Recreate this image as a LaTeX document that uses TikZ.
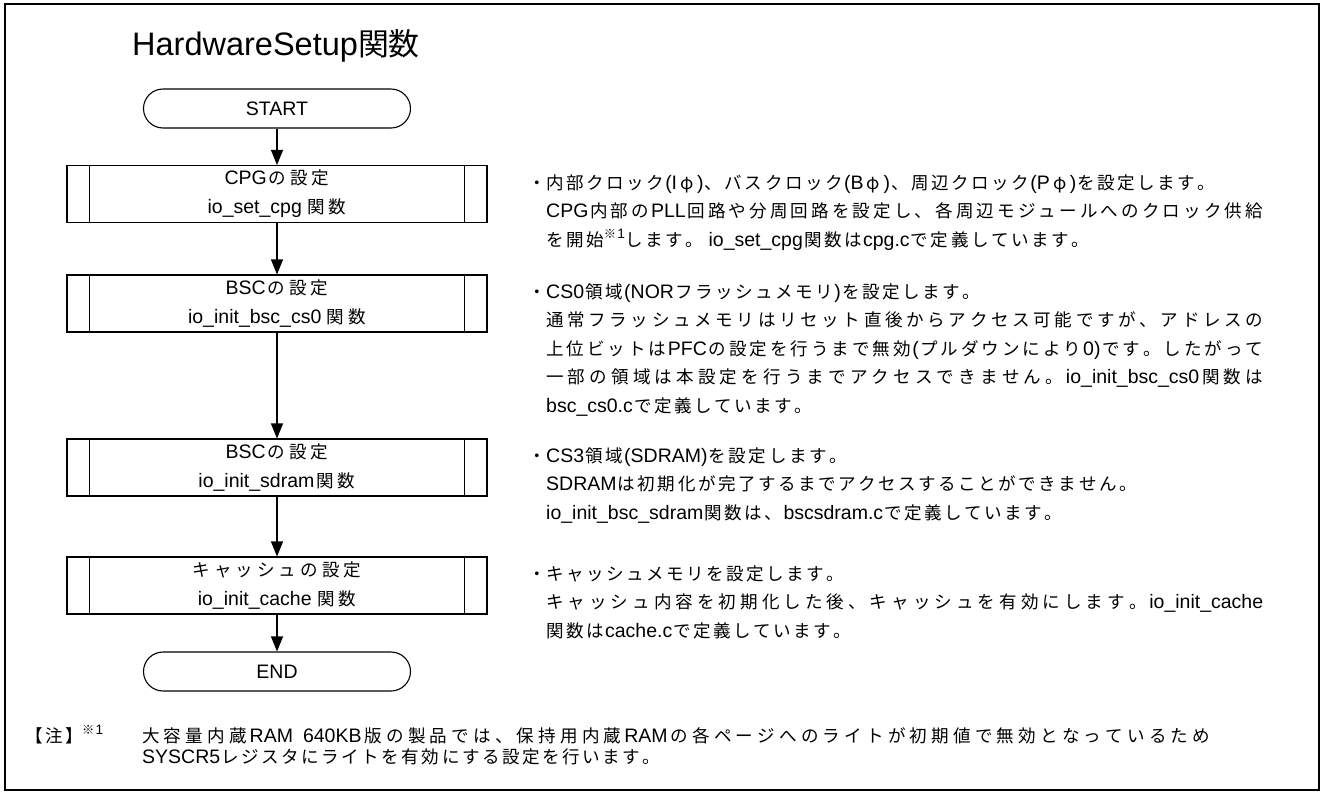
\documentclass[tikz,border=0pt]{standalone}
\usepackage{fontspec}
\setmainfont{Liberation Sans}
\newfontfamily\jfontB{Noto Sans CJK JP}[Scale=0.9]
\newfontfamily\jfontT{Noto Sans CJK JP}[Scale=0.95]
\usetikzlibrary{arrows.meta}
\let\jsw\jfontB
\def\jgapJJ{\hskip 2.5pt plus 1pt\relax}
\def\jgapJL{\hskip 1.25pt plus 1pt\relax}
\newcount\jcnt
\newXeTeXintercharclass\jclass
\def\setjrange#1#2{\jcnt=#1\relax
  \loop\XeTeXcharclass\jcnt=\jclass
  \ifnum\jcnt<#2\advance\jcnt by 1\repeat}
\setjrange{"3000}{"30FF}
\setjrange{"4E00}{"9FFF}
\setjrange{"FF00}{"FFEF}
\XeTeXcharclass"203B=\jclass
\XeTeXcharclass"03C6=\jclass
\XeTeXinterchartoks\jclass\jclass={\jgapJJ}
\XeTeXinterchartoks 0 \jclass={\jgapJL\jsw}
\XeTeXinterchartoks 4095 \jclass={\jsw}
\XeTeXinterchartoks\jclass 0={\jgapJL\rmfamily}
\XeTeXinterchartoks\jclass 4095={\rmfamily}
\XeTeXinterchartokenstate=1
\newcommand\fphi{\makebox[20pt]{φ}}
\newcommand\jl[1]{\hbox to 717pt{#1}}
\tikzset{
  proc/.style={draw, line width=1.1pt, minimum width=420pt, minimum height=57pt,
    inner sep=0pt, align=center,
    font={\def\jgapJJ{\hskip 4pt\relax}\def\jgapJL{\hskip 2pt\relax}\fontsize{19.5}{29}\selectfont}},
  term/.style={draw, line width=1.1pt, rounded corners=19.5pt, minimum width=267pt,
    minimum height=39pt, inner sep=0pt, font=\fontsize{19.5}{23}\selectfont},
  desc/.style={anchor=base west, align=left, inner sep=0pt,
    font=\fontsize{19.5}{28.5}\selectfont},
  note/.style={anchor=base west, align=left, inner sep=0pt,
    font=\fontsize{19.5}{21}\selectfont},
  flow/.style={line width=1.1pt, -{Triangle[length=15pt,width=12pt]}},
  side/.style={line width=1.1pt},
}
\begin{document}
\begin{tikzpicture}[x=1pt,y=-1pt]
\useasboundingbox (0,0) rectangle (1323,793);
\coordinate (fa) at (5,4);
\coordinate (fb) at (1319,790);
\draw[line width=1.3pt] (fa) rectangle (fb);
\draw[line width=2.2pt] (fa |- fb) -- (fa) -- (fb |- fa);
\node[anchor=base west, inner sep=0pt,
  font={\let\jsw\jfontT\let\jgapJJ\relax\let\jgapJL\relax\fontsize{32.5}{38}\selectfont}]
  (title) at (132,55) {HardwareSetup関数};
% flowchart
\node[term] (start) at (277,108.5) {START};
\node[proc] (p1) at (277,194) {CPGの設定\\io\_set\_cpg 関数};
\node[proc] (p2) at (277,303.5) {BSCの設定\\io\_init\_bsc\_cs0 関数};
\node[proc] (p3) at (277,467.5) {BSCの設定\\io\_init\_sdram関数};
\node[proc] (p4) at (277,585.5) {キャッシュの設定\\io\_init\_cache 関数};
\node[term] (end) at (277,671.5) {END};
\foreach \n in {p1,p2,p3,p4}{
  \draw[side] ([xshift=23pt]\n.north west) -- ([xshift=23pt]\n.south west);
  \draw[side] ([xshift=-23pt]\n.north east) -- ([xshift=-23pt]\n.south east);
}
\draw[flow] (start) -- (p1);
\draw[flow] (p1) -- (p2);
\draw[flow] (p2) -- (p3);
\draw[flow] (p3) -- (p4);
\draw[flow] (p4) -- (end);
% descriptions (base = last line)
\node[desc] (d1) at (546,246) {\llap{・}内部クロック(I\fphi)、バスクロック(B\fphi)、周辺クロック(P\fphi)を設定します。\\
\jl{CPG内部のPLL回路や分周回路を設定し、各周辺モジュールへのクロック供給}\\
を開始\textsuperscript{※1}します。 io\_set\_cpg関数はcpg.cで定義しています。};
\node[desc] (d2) at (546,412) {\llap{・}CS0領域(NORフラッシュメモリ)を設定します。\\
\jl{通常フラッシュメモリはリセット直後からアクセス可能ですが、アドレスの}\\
\jl{上位ビットはPFCの設定を行うまで無効(プルダウンにより0)です。したがって}\\
\jl{一部の領域は本設定を行うまでアクセスできません。io\_init\_bsc\_cs0関数は}\\
bsc\_cs0.cで定義しています。};
\node[desc] (d3) at (546,519) {\llap{・}CS3領域(SDRAM)を設定します。\\
SDRAMは初期化が完了するまでアクセスすることができません。\\
io\_init\_bsc\_sdram関数は、bscsdram.cで定義しています。};
\node[desc] (d4) at (546,637) {\llap{・}キャッシュメモリを設定します。\\
\jl{キャッシュ内容を初期化した後、キャッシュを有効にします。io\_init\_cache}\\
関数はcache.cで定義しています。};
% note
\node[note] (n0) at (25,742) {【注】};
\node[note] (n1) at (82,742) {\textsuperscript{※1}};
\node[note] (n2) at (142,763) {\hbox to 1068pt{大容量内蔵RAM 640KB版の製品では、保持用内蔵RAMの各ページへのライトが初期値で無効となっているため}\\
SYSCR5レジスタにライトを有効にする設定を行います。};
\end{tikzpicture}
\end{document}
